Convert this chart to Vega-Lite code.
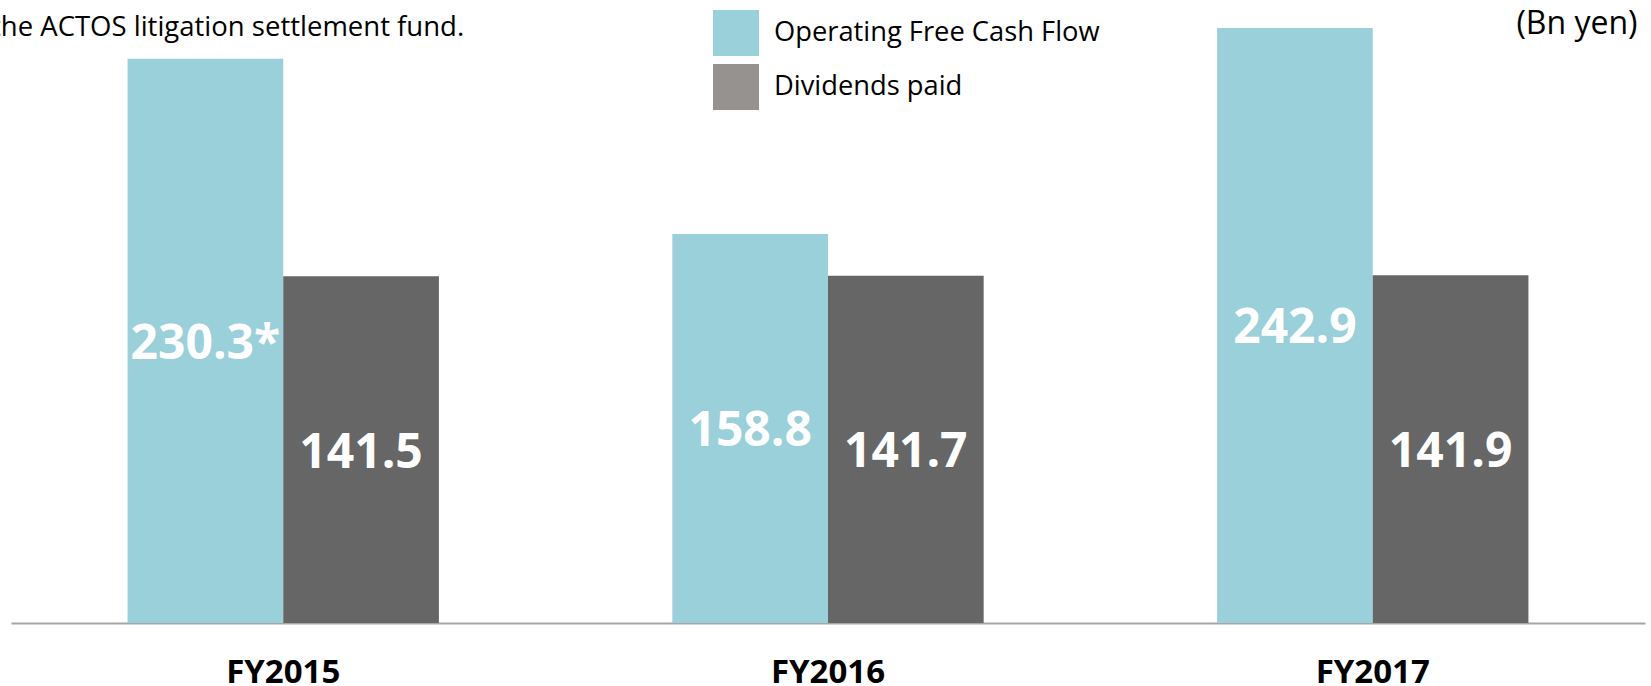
{
  "$schema": "https://vega.github.io/schema/vega-lite/v6.json",
  "autosize": {"type": "none"},
  "padding": {"left": 11, "top": 0, "right": 6, "bottom": 63},
  "width": 1634,
  "height": 623,
  "background": "white",
  "title": {
    "text": "the ACTOS litigation settlement fund.",
    "anchor": "start",
    "frame": "group",
    "orient": "top",
    "offset": 0,
    "baseline": "alphabetic",
    "dx": -20,
    "dy": 63,
    "font": "Open Sans",
    "fontSize": 27.5,
    "fontWeight": "normal",
    "color": "#000000"
  },
  "data": {
    "values": [
      {"fy": "FY2015", "series": "Operating Free Cash Flow", "value": 230.3, "label": "230.3*"},
      {"fy": "FY2015", "series": "Dividends paid", "value": 141.5, "label": "141.5"},
      {"fy": "FY2016", "series": "Operating Free Cash Flow", "value": 158.8, "label": "158.8"},
      {"fy": "FY2016", "series": "Dividends paid", "value": 141.7, "label": "141.7"},
      {"fy": "FY2017", "series": "Operating Free Cash Flow", "value": 242.9, "label": "242.9"},
      {"fy": "FY2017", "series": "Dividends paid", "value": 141.9, "label": "141.9"}
    ]
  },
  "encoding": {
    "x": {
      "field": "fy",
      "type": "nominal",
      "sort": ["FY2015", "FY2016", "FY2017"],
      "scale": {"paddingInner": 0.4285, "paddingOuter": 0.214},
      "axis": {
        "title": null,
        "labelAngle": 0,
        "ticks": false,
        "labelFont": "Open Sans",
        "labelFontSize": 33,
        "labelFontWeight": "bold",
        "labelColor": "#000000",
        "labelPadding": 33,
        "domainColor": "#a6a6a6",
        "domainWidth": 2
      }
    },
    "xOffset": {
      "field": "series",
      "type": "nominal",
      "sort": ["Operating Free Cash Flow", "Dividends paid"],
      "scale": {"paddingInner": 0, "paddingOuter": 0}
    }
  },
  "layer": [
    {
      "mark": {"type": "bar"},
      "encoding": {
        "y": {
          "field": "value",
          "type": "quantitative",
          "scale": {"domain": [0, 254.3], "nice": false, "zero": true},
          "axis": {
            "orient": "right",
            "domain": false,
            "ticks": false,
            "labels": false,
            "grid": false,
            "title": "(Bn yen)",
            "titleAngle": 0,
            "titleAlign": "right",
            "titleBaseline": "alphabetic",
            "titleX": -8,
            "titleY": 33,
            "titleFont": "Open Sans",
            "titleFontSize": 32,
            "titleFontWeight": "normal",
            "titleColor": "#000000"
          }
        },
        "color": {
          "field": "series",
          "type": "nominal",
          "scale": {
            "domain": ["Operating Free Cash Flow", "Dividends paid"],
            "range": ["#99d0d9", "#666666"]
          },
          "legend": null
        }
      }
    },
    {
      "mark": {"type": "bar", "opacity": 0},
      "encoding": {
        "y": {
          "field": "value",
          "type": "quantitative",
          "scale": {"domain": [0, 254.3], "nice": false, "zero": true},
          "axis": null
        },
        "color": {
          "field": "series",
          "type": "nominal",
          "scale": {
            "domain": ["Operating Free Cash Flow", "Dividends paid"],
            "range": ["#99d0d9", "#96928f"]
          },
          "legend": {
            "title": null,
            "orient": "none",
            "legendX": 702,
            "legendY": 10,
            "padding": 0,
            "symbolType": "square",
            "symbolSize": 2116,
            "symbolStrokeWidth": 0,
            "symbolOpacity": 1,
            "rowPadding": 8,
            "labelOffset": 15,
            "labelFont": "Open Sans",
            "labelFontSize": 27.3,
            "labelColor": "#000000",
            "labelLimit": 600
          }
        }
      }
    },
    {
      "mark": {
        "type": "text",
        "color": "#ffffff",
        "font": "Open Sans",
        "fontSize": 48,
        "fontWeight": "bold",
        "align": "center",
        "baseline": "middle",
        "dy": 4
      },
      "encoding": {
        "y": {
          "field": "value",
          "type": "quantitative",
          "scale": {"domain": [0, 508.6], "nice": false, "zero": true},
          "axis": null
        },
        "text": {"field": "label"}
      }
    }
  ],
  "resolve": {"scale": {"y": "independent", "color": "independent"}},
  "config": {
    "view": {"stroke": null}
  }
}
